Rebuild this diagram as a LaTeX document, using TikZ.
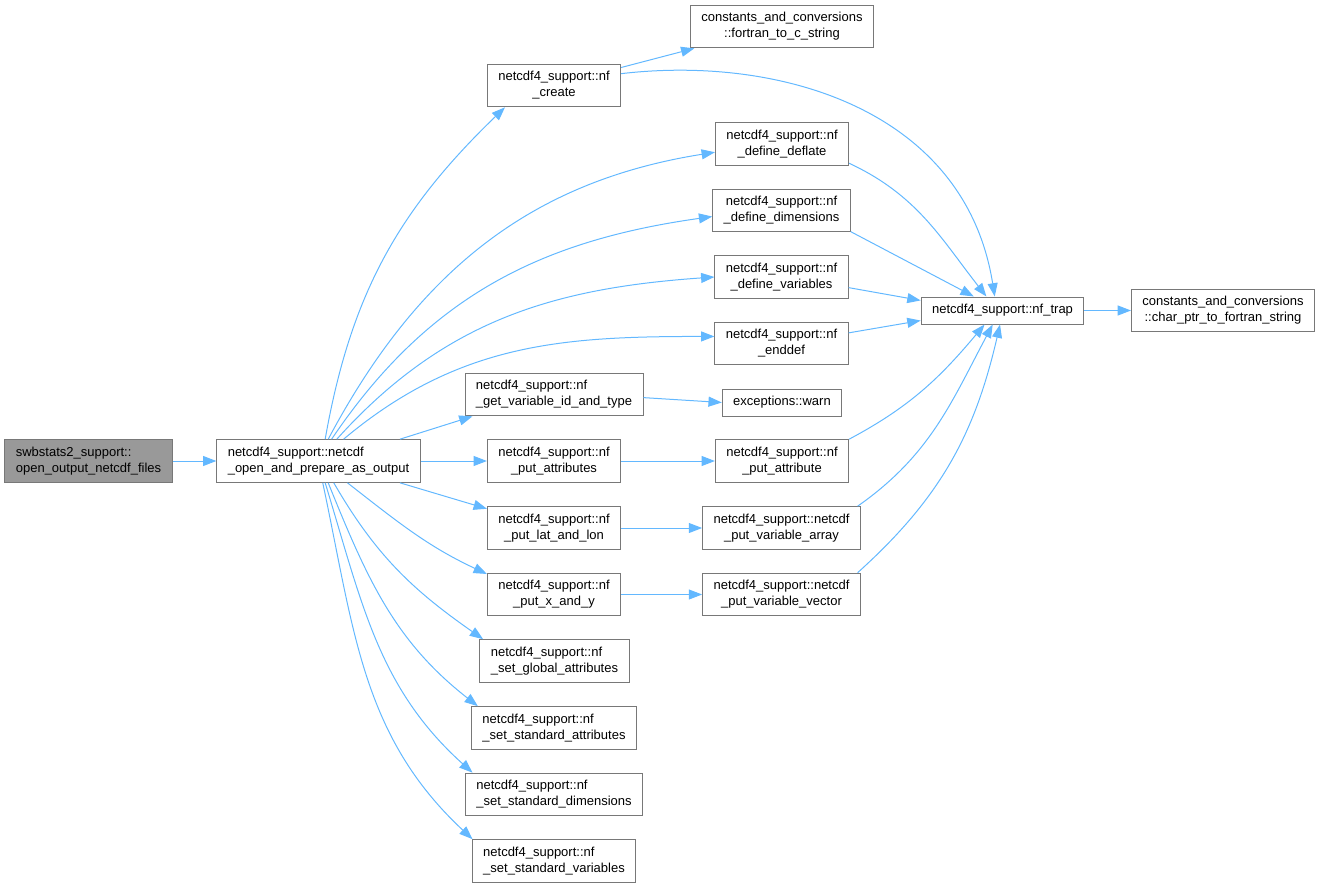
\documentclass[tikz,border=0pt]{standalone}
\usepackage{fontspec}
\newfontfamily\graphfont{Liberation Sans}
\usetikzlibrary{arrows.meta}
\definecolor{edgeblue}{RGB}{99,184,255}
\definecolor{boxgray}{RGB}{120,120,120}
\definecolor{rootgray}{RGB}{153,153,153}
\tikzset{
  fn-box/.style={
    draw=boxgray,
    fill=white,
    line width=0.75pt,
    inner xsep=8.2pt,
    inner ysep=1pt,
    minimum height=32pt,
    align=center,
    font=\graphfont\fontsize{9.75}{12}\selectfont
  },
  fn-left/.style={fn-box, align=left},
  fn-root/.style={fn-left, fill=rootgray},
  fn-single/.style={fn-box, minimum height=20.25pt},
  call/.style={draw=edgeblue, line width=0.75pt, -{Triangle[length=10pt,width=7.5pt]}}
}

\begin{document}
\begin{tikzpicture}[x=0.75pt,y=-0.75pt]
  \useasboundingbox (0,0) rectangle (1321,888);

  % Caller and first level
  \node[fn-root] (swb) at (88.5,461) {swbstats2\_support::\\open\_output\_netcdf\_files};
  \node[fn-left] (open) at (318.5,461) {netcdf4\_support::netcdf\\\_open\_and\_prepare\_as\_output};

  \node[fn-box] (create) at (554,85.5) {netcdf4\_support::nf\\\_create};
  \node[fn-left] (getvar) at (554,394.5) {netcdf4\_support::nf\\\_get\_variable\_id\_and\_type};
  \node[fn-box] (putattrs) at (554,461) {netcdf4\_support::nf\\\_put\_attributes};
  \node[fn-box] (latlon) at (554,528) {netcdf4\_support::nf\\\_put\_lat\_and\_lon};
  \node[fn-box] (xy) at (554,594.5) {netcdf4\_support::nf\\\_put\_x\_and\_y};
  \node[fn-left] (global) at (554.5,661) {netcdf4\_support::nf\\\_set\_global\_attributes};
  \node[fn-left] (stdattr) at (554,728) {netcdf4\_support::nf\\\_set\_standard\_attributes};
  \node[fn-left] (stddims) at (554,794.5) {netcdf4\_support::nf\\\_set\_standard\_dimensions};
  \node[fn-left] (stdvars) at (554,861) {netcdf4\_support::nf\\\_set\_standard\_variables};

  % Second level
  \node[fn-box] (f2c) at (782,26.5) {constants\_and\_conversions\\::fortran\_to\_c\_string};
  \node[fn-box] (deflate) at (782,144) {netcdf4\_support::nf\\\_define\_deflate};
  \node[fn-box] (dims) at (781.5,210.5) {netcdf4\_support::nf\\\_define\_dimensions};
  \node[fn-box] (vars) at (781.5,277) {netcdf4\_support::nf\\\_define\_variables};
  \node[fn-box] (enddef) at (781.5,343.5) {netcdf4\_support::nf\\\_enddef};
  \node[fn-single] (warn) at (782,402.5) {exceptions::warn};
  \node[fn-box] (putattr) at (782,461) {netcdf4\_support::nf\\\_put\_attribute};
  \node[fn-box] (vararr) at (781.5,528) {netcdf4\_support::netcdf\\\_put\_variable\_array};
  \node[fn-box] (varvec) at (781.5,594.5) {netcdf4\_support::netcdf\\\_put\_variable\_vector};

  % Error trap
  \node[fn-single] (trap) at (1002.5,310.5) {netcdf4\_support::nf\_trap};
  \node[fn-box] (charptr) at (1223,310.5) {constants\_and\_conversions\\::char\_ptr\_to\_fortran\_string};

  \draw[call] (swb) -- (open);

  % Calls out of the top of open
  \draw[call] (open.73) to[out=80,in=-136] (create.-156);
  \draw[call] (open.66) to[out=62,in=-171] (deflate.-173);
  \draw[call] (open.59) to[out=56,in=-172] (dims.-175);
  \draw[call] (open.50) to[out=48,in=-176] (vars.west);
  \draw[call] (open.41) to[out=40,in=180] (enddef.174);
  \draw[call] (open.15) -- (getvar.-165);
  \draw[call] (open) -- (putattrs);

  % Calls out of the bottom of open
  \draw[call] (open.-15) -- (latlon.164);
  \draw[call] (open.-37) to[out=-38,in=155] (xy.163);
  \draw[call] (open.-55) to[out=-60,in=145] (global.163);
  \draw[call] (open.-66) to[out=-68,in=142] (stdattr.164);
  \draw[call] (open.-73) to[out=-73,in=138] (stddims.165);
  \draw[call] (open.-79) to[out=-78,in=137] (stdvars.165);

  % Second level calls
  \draw[call] (create.15) -- (f2c.-166);
  \draw[call] (getvar.-2) -- (warn.west);
  \draw[call] (putattrs) -- (putattr);
  \draw[call] (latlon) -- (vararr);
  \draw[call] (xy) -- (varvec);

  % Everything into nf_trap
  \draw[call] (create.10) .. controls (780,55) and (965,110) .. (trap.119);
  \draw[call] (deflate.-16) to[out=-25,in=128] (trap.139);
  \draw[call] (dims.-17) -- (trap.154);
  \draw[call] (vars.-9) -- (trap.173);
  \draw[call] (enddef.9) -- (trap.-173);
  \draw[call] (putattr.18) to[out=28,in=-130] (trap.-142);
  \draw[call] (vararr.16) to[out=35,in=-118] (trap.-125);
  \draw[call] (varvec.16) to[out=42,in=-103] (trap.-100);
  \draw[call] (trap) -- (charptr);

\end{tikzpicture}
\end{document}
